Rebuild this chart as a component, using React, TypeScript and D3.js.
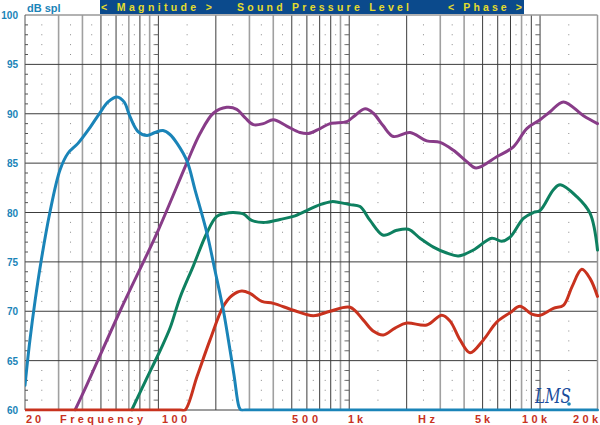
import React from "react";
import * as d3 from "d3";

// ---- data (frequency in Hz, level in dB SPL) ----
const blueF = [20, 21.2, 22.6, 24.3, 27.0, 30.5, 33.6, 37.9, 43.8, 49.4, 54.5, 60.7, 66.1, 71.0, 78.2, 87.2, 96.0, 105.7, 115, 125.3, 141.3, 155.6, 179.2, 198.1, 218.9, 232.7, 249.2, 264.6, 271, 285, 320, 500, 1000, 3000, 8000, 20000];
const blueDb = [62.5, 67, 71.1, 75.1, 80, 84.3, 86, 87, 88.6, 90.1, 91.2, 91.7, 91.2, 89.7, 88.2, 87.8, 88.1, 88.3, 87.9, 87.0, 85.2, 82.3, 78, 74.1, 70.1, 67.1, 63.5, 60.3, 60, 60, 60, 60, 60, 60, 60, 60];

const redF = [20, 40, 80, 115, 130, 137.9, 159.4, 186.5, 218.9, 243.2, 273.4, 302, 348.1, 400.4, 509.6, 648.6, 793.6, 1010, 1186, 1334, 1510, 1738, 2002, 2548, 3054, 3377, 3810, 4297, 5048, 5930, 6965, 7852, 9048, 10002, 11750, 13250, 14720, 16550, 18290, 20000];
const redDb = [60, 60, 60, 60, 60, 60, 63.4, 67.1, 70.5, 71.6, 72.05, 71.8, 71.0, 70.8, 70.1, 69.55, 70.0, 70.4, 69.1, 68.0, 67.6, 68.3, 68.8, 68.6, 69.6, 69.0, 67.1, 65.8, 67.1, 68.9, 69.85, 70.5, 69.7, 69.6, 70.3, 70.6, 72.5, 74.25, 73.3, 71.5];

const greenF = [72.5, 85.9, 102, 115.1, 129.9, 152.5, 179.2, 202.2, 223.4, 247, 278.8, 308.4, 362.3, 434, 509.6, 599, 703.2, 810.4, 895.5, 1010, 1140, 1286, 1510, 1775, 2042, 2350, 2761, 3245, 3733, 4473, 5585, 6300, 6965, 8180, 9230, 10002, 11750, 12730, 15580, 18290, 20000];
const greenDb = [60, 63, 66, 68.3, 71.4, 74.6, 77.9, 79.6, 79.9, 80.0, 79.85, 79.2, 79.0, 79.3, 79.6, 80.2, 80.8, 81.1, 81.0, 80.8, 80.6, 79.2, 77.7, 78.2, 78.3, 77.4, 76.5, 75.9, 75.6, 76.2, 77.4, 77.1, 77.5, 79.4, 80.0, 80.2, 82.3, 82.8, 81.6, 79.9, 76.2];

const purpleF = [36.6, 42.3, 62.9, 99.8, 140.8, 165.3, 194.1, 228.1, 257.4, 284.4, 314.5, 354.9, 400.4, 470.6, 552.4, 611, 703.2, 793.6, 970.8, 1052, 1211, 1339, 1504, 1703, 2084, 2548, 2993, 3516, 4131, 4624, 5930, 7249, 8521, 10002, 11290, 13250, 16880, 20000];
const purpleDb = [60, 62.6, 70, 78.2, 85.0, 88.0, 90.05, 90.65, 90.45, 89.6, 88.9, 89.0, 89.4, 88.75, 88.1, 88.0, 88.5, 89.0, 89.2, 89.7, 90.5, 90.05, 88.8, 87.7, 88.1, 87.25, 87.1, 86.3, 85.15, 84.5, 85.65, 86.65, 88.5, 89.4, 90.2, 91.2, 89.8, 89.0];

const yTicks = [60, 65, 70, 75, 80, 85, 90, 95, 100];
const gridFreqs = [30, 40, 50, 60, 70, 80, 90, 100, 200, 300, 400, 500, 600, 700, 800, 900, 1000, 2000, 3000, 4000, 5000, 6000, 7000, 8000, 9000, 10000];
const lightFreqs = [30, 40, 70, 90, 300, 400, 900, 3000, 4000, 8000];
const decadeFreqs = [100, 1000, 10000];

const xLabels = ["20", "Frequency", "100", "500", "1k", "Hz", "5k", "10k", "20k"];
const xLabelStart = [26, 60, 162, 292, 348, 418, 475, 522, 573];
const xLabelWidth = [15, 83, 25, 26, 15, 17, 15, 25, 25];

const headerTexts = ["< Magnitude >", "Sound Pressure Level", "< Phase >"];
const headerStart = [101, 237, 448];
const headerWidth = [111, 172, 74];

const W = 600, H = 425;
const L = 25, R = 597.5, T = 15, B = 410;

export default function App() {
  const x = d3.scaleLog().domain([20, 20000]).range([L, R]);
  const y = d3.scaleLinear().domain([60, 100]).range([B, T]);
  const line = d3.line<[number, number]>().x(d => x(d[0])).y(d => y(d[1])).curve(d3.curveCatmullRom.alpha(0.5));
  const mk = (f: number[], v: number[]) => line(f.map((ff, i) => [ff, v[i]] as [number, number])) || "";

  const allX = [20, ...gridFreqs, 20000];
  const dots: JSX.Element[] = [];
  for (let i = 0; i < allX.length - 1; i++) {
    const mx = (x(allX[i]) + x(allX[i + 1])) / 2;
    for (let db = 61; db < 100; db++) {
      if (db % 5 === 0) continue;
      dots.push(<rect key={`d${i}-${db}`} x={mx - 0.5} y={y(db) - 0.5} width={1} height={1} fill="#8a8a8a" />);
    }
  }
  const dashes: JSX.Element[] = [];
  for (let db = 61; db < 100; db++) {
    if (db % 5 === 0) continue;
    dashes.push(<line key={`l${db}`} x1={L} x2={L + 3} y1={y(db)} y2={y(db)} stroke="#555" strokeWidth={1} />);
    decadeFreqs.forEach(f => {
      dashes.push(<line key={`t${f}-${db}`} x1={x(f) - 4} x2={x(f)} y1={y(db)} y2={y(db)} stroke="#666" strokeWidth={1} />);
    });
  }

  const blue = "#1a84b8", red = "#c8321e", green = "#0e8060", purple = "#883c88";

  return (
    <svg width={W} height={H} style={{ position: "absolute", left: 0, top: 0, background: "#fff" }}
      fontFamily="'Liberation Sans', Arial, sans-serif">
      <defs>
        <clipPath id="plot"><rect x={L} y={T - 2} width={R - L + 3} height={B - T + 3.6} /></clipPath>
      </defs>
      <rect x={0} y={0} width={W} height={H} fill="#fff" />
      {/* header */}
      <rect x={100} y={0} width={424} height={14} fill="#0b4a8c" />
      {headerTexts.map((t, i) => (
        <text key={t} x={headerStart[i]} y={11} fontSize={10.5} fontWeight="bold" fill="#e4dc2c"
          textLength={headerWidth[i]} lengthAdjust="spacing">{t}</text>
      ))}
      <text x={27} y={11.5} fontSize={11} fontWeight="bold" fill={blue}>dB spl</text>
      {/* grid */}
      {dots}
      {gridFreqs.map(f => (
        <line key={`v${f}`} x1={x(f)} x2={x(f)} y1={T} y2={B}
          stroke={lightFreqs.includes(f) ? "#a0a0a0" : "#3c3c3c"} strokeWidth={lightFreqs.includes(f) ? 1.6 : 1} />
      ))}
      {yTicks.filter(v => v > 60 && v < 100).map(v => (
        <line key={`h${v}`} x1={L} x2={R} y1={y(v)} y2={y(v)} stroke="#3c3c3c" strokeWidth={1} />
      ))}
      {dashes}
      <line x1={L} x2={R} y1={T} y2={T} stroke="#999" strokeWidth={1.5} />
      <line x1={L} x2={R} y1={B} y2={B} stroke="#3c3c3c" strokeWidth={1} />
      <line x1={L} x2={L} y1={T} y2={B} stroke="#555" strokeWidth={1} />
      <line x1={R} x2={R} y1={T} y2={B} stroke="#999" strokeWidth={1.5} />
      {/* y labels */}
      {yTicks.map(v => (
        <text key={`y${v}`} x={18} y={y(v) + 4} fontSize={10} fontWeight="bold" fill={blue} textAnchor="end">{v}</text>
      ))}
      {/* curves */}
      <g clipPath="url(#plot)" fill="none" strokeWidth={3} strokeLinejoin="round" strokeLinecap="round">
        <path d={mk(purpleF, purpleDb)} stroke={purple} />
        <path d={mk(greenF, greenDb)} stroke={green} />
        <path d={mk(redF, redDb)} stroke={red} />
        <path d={mk(blueF, blueDb)} stroke={blue} />
      </g>
      {/* x labels */}
      {xLabels.map((t, i) => (
        <text key={`x${i}`} x={xLabelStart[i]} y={423} fontSize={11} fontWeight="bold" fill={red}
          textLength={xLabelWidth[i]} lengthAdjust="spacing">{t}</text>
      ))}
      {/* logo */}
      <text x={535} y={403} fontSize={20} fontStyle="italic" fill="#1a4c9c"
        fontFamily="'DejaVu Serif', serif" textLength={36} lengthAdjust="spacingAndGlyphs">LMS</text>
      <circle cx={569} cy={404} r={1.8} fill={blue} />
    </svg>
  );
}
